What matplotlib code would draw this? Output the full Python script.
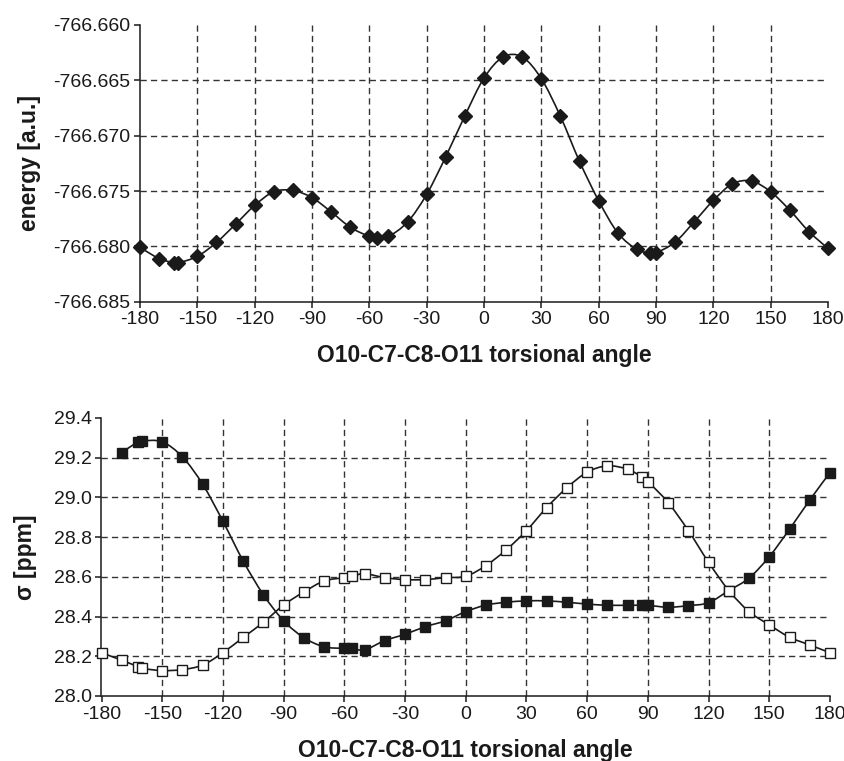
import matplotlib
matplotlib.use("Agg")
import matplotlib.pyplot as plt
from matplotlib.path import Path
from matplotlib.patches import PathPatch
from matplotlib.ticker import FormatStrFormatter
import numpy as np

plt.rcParams['font.family'] = ['Liberation Sans', 'DejaVu Sans']
plt.rcParams['lines.scale_dashes'] = False
plt.rcParams['axes.unicode_minus'] = False

# ---- data ----
angle_energy = [-180, -170, -162, -160, -150, -140, -130, -120, -110, -100, -90, -80, -70,
                -60, -56, -50, -40, -30, -20, -10, 0, 10, 20, 30, 40, 50, 60, 70, 80, 87,
                90, 100, 110, 120, 130, 140, 150, 160, 170, 180]
energy = [-766.6801, -766.6811, -766.6815, -766.6815, -766.6809, -766.67965, -766.6780,
          -766.6763, -766.67507, -766.67495, -766.6756, -766.67688, -766.67827, -766.6791,
          -766.6792, -766.6791, -766.6778, -766.6753, -766.6719, -766.6682, -766.66479,
          -766.66289, -766.66289, -766.66485, -766.66826, -766.67233, -766.67588, -766.67878,
          -766.68028, -766.68059, -766.68059, -766.67962, -766.67778, -766.67585, -766.67435,
          -766.6741, -766.67507, -766.67673, -766.67866, -766.68019]

angle_filled = [-170, -162, -160, -150, -140, -130, -120, -110, -100, -90, -80, -70, -60,
                -56, -50, -40, -30, -20, -10, 0, 10, 20, 30, 40, 50, 60, 70, 80, 87, 90,
                100, 110, 120, 130, 140, 150, 160, 170, 180]
sigma_filled = [29.226, 29.280, 29.285, 29.280, 29.204, 29.066, 28.880, 28.680, 28.510,
                28.379, 28.294, 28.248, 28.240, 28.240, 28.232, 28.279, 28.311, 28.349,
                28.379, 28.425, 28.458, 28.472, 28.479, 28.479, 28.472, 28.463, 28.457,
                28.457, 28.457, 28.457, 28.447, 28.455, 28.470, 28.531, 28.594, 28.702,
                28.840, 28.987, 29.125]

angle_open = [-180, -170, -162, -160, -150, -140, -130, -120, -110, -100, -90, -80, -70,
              -60, -56, -50, -40, -30, -20, -10, 0, 10, 20, 30, 40, 50, 60, 70, 80, 87,
              90, 100, 110, 120, 130, 140, 150, 160, 170, 180]
sigma_open = [28.218, 28.180, 28.148, 28.139, 28.128, 28.133, 28.156, 28.218, 28.295,
              28.371, 28.458, 28.524, 28.579, 28.596, 28.603, 28.616, 28.596, 28.586,
              28.586, 28.596, 28.603, 28.657, 28.736, 28.833, 28.949, 29.049, 29.127,
              29.159, 29.142, 29.103, 29.080, 28.974, 28.833, 28.673, 28.531, 28.425,
              28.358, 28.296, 28.257, 28.218]

x_ticks = [-180, -150, -120, -90, -60, -30, 0, 30, 60, 90, 120, 150, 180]
e_ticks = [-766.685, -766.680, -766.675, -766.670, -766.665, -766.660]
s_ticks = [28.0, 28.2, 28.4, 28.6, 28.8, 29.0, 29.2, 29.4]

xlabel = "O10-C7-C8-O11 torsional angle"

INK = '#1a1a1a'


def smooth_path(xs, ys):
    pts = np.column_stack([xs, ys]).astype(float)
    n = len(pts)
    verts = [pts[0]]
    codes = [Path.MOVETO]
    for i in range(n - 1):
        p0 = pts[i - 1] if i > 0 else pts[i]
        p1 = pts[i]
        p2 = pts[i + 1]
        p3 = pts[i + 2] if i + 2 < n else pts[i + 1]
        c1 = p1 + (p2 - p0) / 6.0
        c2 = p2 - (p3 - p1) / 6.0
        verts += [c1, c2, p2]
        codes += [Path.CURVE4] * 3
    return Path(verts, codes)


def style_axes(ax, yticks, fmt, ylabel, lp_y, lp_x):
    ax.set_xlim(-180, 180)
    ax.set_xticks(x_ticks)
    ax.set_yticks(yticks)
    ax.set_ylim(yticks[0], yticks[-1])
    ax.yaxis.set_major_formatter(FormatStrFormatter(fmt))
    for s in ['top', 'right']:
        ax.spines[s].set_visible(False)
    for s in ['left', 'bottom']:
        ax.spines[s].set_linewidth(1.1)
        ax.spines[s].set_color(INK)
    ax.tick_params(direction='out', length=4, width=1.1, color=INK,
                   labelsize=14, labelcolor=INK, pad=3)
    for xv in x_ticks[1:-1]:
        ax.axvline(xv, color='#333333', lw=1.0, ls=(0, (4.5, 3)), zorder=0)
    for yv in yticks[1:-1]:
        ax.axhline(yv, color='#333333', lw=1.0, ls=(0, (4.5, 3)), zorder=0)
    ax.set_xlabel(xlabel, fontsize=16.5, fontweight='bold', color=INK, labelpad=lp_x)
    ax.set_ylabel(ylabel, fontsize=16.5, fontweight='bold', color=INK, labelpad=lp_y)


fig = plt.figure(figsize=(8.45, 7.61), dpi=100)

ax1 = fig.add_axes([140 / 845, 1 - 301.7 / 761, (828 - 140) / 845, (301.7 - 25) / 761])
style_axes(ax1, e_ticks, '%.3f', 'energy [a.u.]', 9, 11)
ax1.add_patch(PathPatch(smooth_path(angle_energy, energy), fill=False, ec=INK, lw=1.2, zorder=2))
ax1.plot(angle_energy, energy, ls='none', marker='D', ms=7.5, mfc=INK, mec=INK, zorder=3,
         clip_on=False)

ax2 = fig.add_axes([101.5 / 845, 1 - 696 / 761, (830 - 101.5) / 845, (696 - 418) / 761])
style_axes(ax2, s_ticks, '%.1f', 'σ [ppm]', 12, 12)
ax2.add_patch(PathPatch(smooth_path(angle_filled, sigma_filled), fill=False, ec=INK, lw=1.2, zorder=2))
ax2.add_patch(PathPatch(smooth_path(angle_open, sigma_open), fill=False, ec=INK, lw=1.2, zorder=2))
ax2.plot(angle_filled, sigma_filled, ls='none', marker='s', ms=6.5, mfc=INK, mec=INK,
         mew=1.0, zorder=3, clip_on=False)
ax2.plot(angle_open, sigma_open, ls='none', marker='s', ms=6.5, mfc='white', mec=INK,
         mew=1.0, zorder=4, clip_on=False)

fig.savefig('out.png', dpi=100)
